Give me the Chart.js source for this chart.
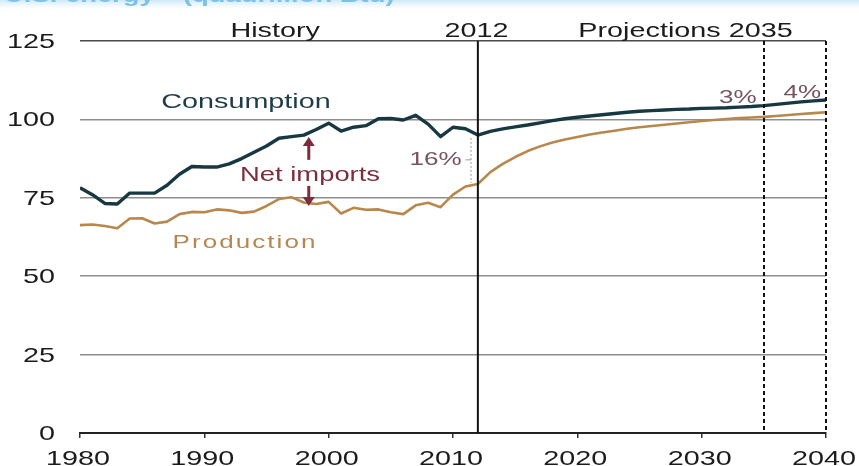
<!DOCTYPE html>
<html>
<head>
<meta charset="utf-8">
<script src="https://cdn.jsdelivr.net/npm/chart.js@4.4.0/dist/chart.umd.min.js"></script>
<style>
  html, body { margin: 0; padding: 0; background: #fff; overflow: hidden; }
  #wrap { width: 859px; height: 466px; position: relative; }
</style>
</head>
<body>
<div id="wrap"><canvas id="chart1"></canvas></div>
<script>
// quadrillion Btu, history to 2012, projections to 2040
const years = [1980, 1981, 1982, 1983, 1984, 1985, 1986, 1987, 1988, 1989,
  1990, 1991, 1992, 1993, 1994, 1995, 1996, 1997, 1998, 1999,
  2000, 2001, 2002, 2003, 2004, 2005, 2006, 2007, 2008, 2009,
  2010, 2011, 2012, 2013, 2014, 2015, 2016, 2017, 2018, 2019,
  2020, 2021, 2022, 2023, 2024, 2025, 2026, 2027, 2028, 2029,
  2030, 2031, 2032, 2033, 2034, 2035, 2036, 2037, 2038, 2039, 2040];

const consumption = [78.2, 76.0, 73.2, 73.0, 76.5, 76.5, 76.5, 79.0, 82.5, 85.0,
  84.8, 84.8, 85.8, 87.5, 89.5, 91.5, 94.0, 94.5, 95.0, 96.8,
  98.8, 96.3, 97.5, 98.0, 100.2, 100.3, 99.8, 101.3, 98.5, 94.5,
  97.5, 97.0, 95.0, 96.2, 97.0, 97.6, 98.2, 98.9, 99.6, 100.2,
  100.7, 101.1, 101.5, 101.9, 102.3, 102.6, 102.8, 103.0, 103.2, 103.3,
  103.5, 103.6, 103.7, 103.9, 104.1, 104.4, 104.8, 105.2, 105.6, 105.9, 106.2];

const production = [66.3, 66.5, 66.0, 65.3, 68.4, 68.5, 66.8, 67.4, 69.8, 70.5,
  70.4, 71.3, 71.0, 70.2, 70.6, 72.4, 74.6, 75.2, 73.5, 73.0,
  73.7, 70.0, 71.8, 71.2, 71.3, 70.4, 69.8, 72.6, 73.4, 72.0,
  76.0, 78.6, 79.4, 83.2, 85.8, 88.0, 89.9, 91.4, 92.6, 93.6,
  94.4, 95.2, 95.8, 96.4, 97.0, 97.5, 97.9, 98.3, 98.7, 99.1,
  99.5, 99.8, 100.1, 100.4, 100.6, 100.8, 101.1, 101.4, 101.7, 102.0, 102.3];

const yTicks = [0, 25, 50, 75, 100, 125];
const xTicks = [1980, 1990, 2000, 2010, 2020, 2030, 2040];
const splitYear = 2012;
const dashedYears = [2035, 2040];

const SX = 1.37; // the source text is drawn wide
const FONT = '"Liberation Sans", Arial, sans-serif';

function wideText(ctx, str, x, y, size, color, align, extra) {
  ctx.save();
  ctx.font = (extra && extra.bold ? 'bold ' : '') + size + 'px ' + FONT;
  ctx.fillStyle = color;
  ctx.textAlign = align || 'center';
  ctx.textBaseline = 'alphabetic';
  if (extra && extra.spacing) ctx.letterSpacing = extra.spacing;
  ctx.translate(x, y);
  ctx.scale(SX, 1);
  ctx.fillText(str, 0, 0);
  ctx.restore();
}

function arrow(ctx, x, y0, y1, color) {
  // shaft from y0 to tip y1
  const dir = y1 < y0 ? -1 : 1;
  ctx.save();
  ctx.strokeStyle = color;
  ctx.fillStyle = color;
  ctx.lineWidth = 3;
  ctx.beginPath();
  ctx.moveTo(x, y0);
  ctx.lineTo(x, y1 - dir * 7);
  ctx.stroke();
  ctx.beginPath();
  ctx.moveTo(x, y1);
  ctx.lineTo(x - 6, y1 - dir * 9);
  ctx.lineTo(x + 6, y1 - dir * 9);
  ctx.closePath();
  ctx.fill();
  ctx.restore();
}

const markers = {
  id: 'markers',
  beforeDraw(chart) {
    // pale band left over from the cropped slide header
    const ctx = chart.ctx;
    const g = ctx.createLinearGradient(0, 0, 0, 12);
    g.addColorStop(0, 'rgba(200,230,248,0.9)');
    g.addColorStop(1, 'rgba(255,255,255,0)');
    ctx.save();
    ctx.fillStyle = g;
    ctx.fillRect(0, 0, chart.width, 12);
    ctx.restore();
  },
  afterDatasetsDraw(chart) {
    const ctx = chart.ctx;
    const xs = chart.scales.x, ys = chart.scales.y;
    const top = chart.chartArea.top, bottom = chart.chartArea.bottom;

    ctx.save();
    ctx.strokeStyle = '#111';
    ctx.lineWidth = 2;
    let px = xs.getPixelForValue(splitYear);
    ctx.beginPath();
    ctx.moveTo(px, top);
    ctx.lineTo(px, bottom);
    ctx.stroke();
    ctx.setLineDash([4, 3]);
    dashedYears.forEach(yr => {
      px = Math.round(xs.getPixelForValue(yr));
      ctx.beginPath();
      ctx.moveTo(px, top);
      ctx.lineTo(px, bottom);
      ctx.stroke();
    });
    ctx.restore();

    // 16% bracket
    ctx.save();
    ctx.strokeStyle = '#9a9a9a';
    ctx.lineWidth = 1;
    ctx.setLineDash([2, 2]);
    const bx = xs.getPixelForValue(2011.45);
    ctx.beginPath();
    ctx.moveTo(bx, ys.getPixelForValue(94.1));
    ctx.lineTo(bx, ys.getPixelForValue(79.7));
    ctx.stroke();
    ctx.setLineDash([]);
    ctx.beginPath();
    ctx.moveTo(bx, ys.getPixelForValue(87.1));
    ctx.lineTo(xs.getPixelForValue(2011.0), ys.getPixelForValue(87.1));
    ctx.stroke();
    ctx.restore();

    // net imports arrows
    const ax = xs.getPixelForValue(1998.4);
    arrow(ctx, ax, ys.getPixelForValue(87.1), ys.getPixelForValue(94.4), '#7b2d3d');
    arrow(ctx, ax, ys.getPixelForValue(78.8), ys.getPixelForValue(72.4), '#7b2d3d');
  },
  afterDraw(chart) {
    const ctx = chart.ctx;
    const xs = chart.scales.x, ys = chart.scales.y;
    const X = v => xs.getPixelForValue(v), Y = v => ys.getPixelForValue(v);

    // title, cut off by the crop
    wideText(ctx, 'U.S. energy', 4, 2, 20, '#7fc0e6', 'left', { bold: true });
    wideText(ctx, '(quadrillion Btu)', 183, 2, 20, '#7fc0e6', 'left', { bold: true });

    // tick labels
    yTicks.forEach(v => wideText(ctx, String(v), 55, Y(v) + 7, 21, '#1b1b1b', 'right'));
    xTicks.forEach(v => wideText(ctx, String(v), X(v) - 2, 465, 21, '#1b1b1b', 'center'));

    // headers
    wideText(ctx, 'History', X(1995.7), 37, 21, '#1b1b1b');
    wideText(ctx, '2012', X(2011.9), 37, 21, '#1b1b1b');
    wideText(ctx, 'Projections 2035', X(2028.7), 37, 21, '#1b1b1b');

    // series labels
    wideText(ctx, 'Consumption', X(1993.35), Y(103.6), 21, '#1e3c47');
    wideText(ctx, 'Production', X(1993.27), Y(59.0), 19, '#b6884f', 'center', { spacing: '1.5px' });
    wideText(ctx, 'Net imports', X(1998.5), Y(80.4), 20, '#7b2d3d');
    wideText(ctx, '16%', X(2008.6), Y(85.5), 19, '#76545e');
    wideText(ctx, '3%', X(2032.9), Y(105.2), 19, '#76545e');
    wideText(ctx, '4%', X(2038.1), Y(106.8), 19, '#76545e');
  }
};

const ctx = document.getElementById('chart1').getContext('2d');
new Chart(ctx, {
  type: 'line',
  data: {
    datasets: [
      {
        label: 'Consumption',
        data: years.map((yr, i) => ({ x: yr, y: consumption[i] })),
        borderColor: '#173741',
        borderWidth: 3.4,
        pointRadius: 0,
        tension: 0,
        borderJoinStyle: 'round'
      },
      {
        label: 'Production',
        data: years.map((yr, i) => ({ x: yr, y: production[i] })),
        borderColor: '#b8874c',
        borderWidth: 2.6,
        pointRadius: 0,
        tension: 0,
        borderJoinStyle: 'round'
      }
    ]
  },
  options: {
    responsive: true,
    maintainAspectRatio: false,
    animation: false,
    events: [],
    layout: { padding: { top: 41, right: 33, left: 0, bottom: 0 } },
    plugins: {
      legend: { display: false },
      tooltip: { enabled: false }
    },
    scales: {
      x: {
        type: 'linear',
        min: 1980,
        max: 2040,
        ticks: { stepSize: 10, display: false },
        grid: { drawOnChartArea: false, drawTicks: true, tickLength: 5, color: '#333', lineWidth: 1.5 },
        border: { color: '#222', width: 2 },
        afterFit: s => { s.height = 33; }
      },
      y: {
        min: 0,
        max: 125,
        ticks: { stepSize: 25, display: false },
        grid: {
          drawTicks: false,
          lineWidth: 1.5,
          color: c => c.tick.value === 125 ? '#4a4a4a' : (c.tick.value === 0 ? 'rgba(0,0,0,0)' : '#8e8e8e')
        },
        border: { display: false },
        afterFit: s => { s.width = 80; }
      }
    }
  },
  plugins: [markers]
});
</script>
</body>
</html>
